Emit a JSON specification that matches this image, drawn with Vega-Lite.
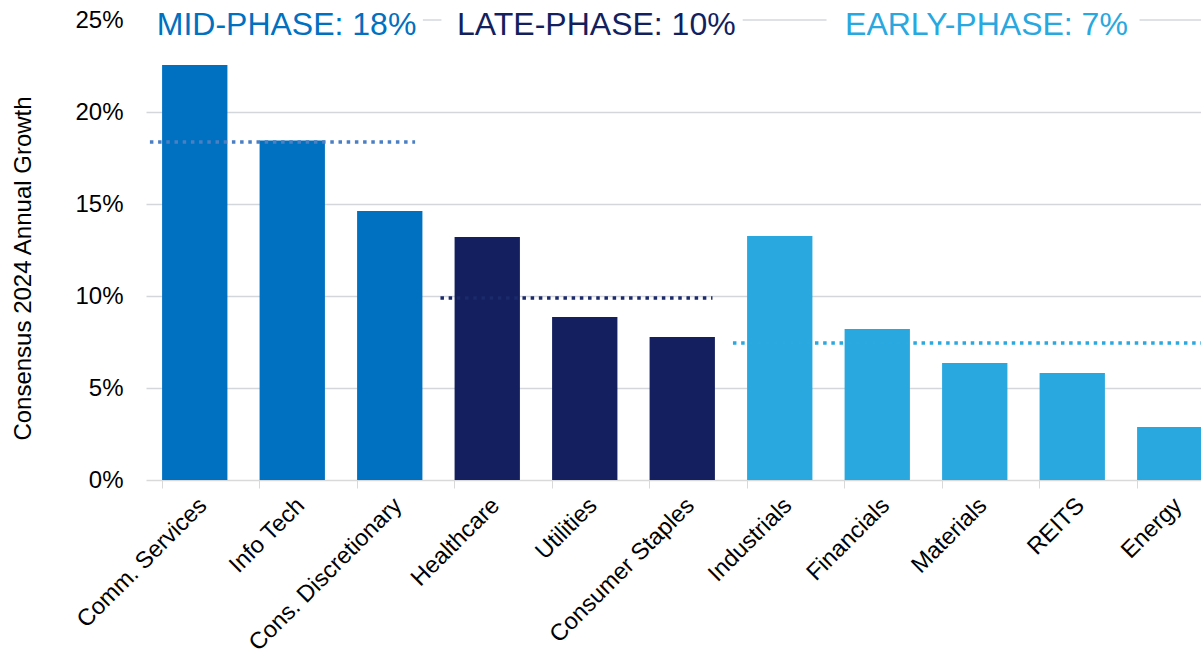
{
  "$schema": "https://vega.github.io/schema/vega-lite/v6.json",
  "width": 1055,
  "height": 460,
  "autosize": {"type": "none"},
  "padding": {"left": 146, "top": 20, "right": 0, "bottom": 180},
  "background": "white",
  "config": {
    "view": {"stroke": null},
    "font": "Liberation Sans",
    "axis": {"labelFont": "Liberation Sans", "titleFont": "Liberation Sans", "labelColor": "#000000", "titleColor": "#000000", "titleFontWeight": "normal"}
  },
  "datasets": {
    "sectors": [
      {"sector": "Comm. Services", "growth": 22.55, "phase": "Mid"},
      {"sector": "Info Tech", "growth": 18.45, "phase": "Mid"},
      {"sector": "Cons. Discretionary", "growth": 14.62, "phase": "Mid"},
      {"sector": "Healthcare", "growth": 13.2, "phase": "Late"},
      {"sector": "Utilities", "growth": 8.86, "phase": "Late"},
      {"sector": "Consumer Staples", "growth": 7.77, "phase": "Late"},
      {"sector": "Industrials", "growth": 13.26, "phase": "Early"},
      {"sector": "Financials", "growth": 8.2, "phase": "Early"},
      {"sector": "Materials", "growth": 6.36, "phase": "Early"},
      {"sector": "REITS", "growth": 5.82, "phase": "Early"},
      {"sector": "Energy", "growth": 2.88, "phase": "Early"}
    ],
    "averages": [
      {"phase": "Mid", "avg": 18.37, "start": 0.04, "end": 2.76},
      {"phase": "Late", "avg": 9.89, "start": 3.02, "end": 5.81},
      {"phase": "Early", "avg": 7.45, "start": 6.02, "end": 11}
    ],
    "topline": [
      {"from": 2.84, "to": 3.03},
      {"from": 6.12, "to": 6.98},
      {"from": 10.19, "to": 11}
    ],
    "labels": [
      {"label": "MID-PHASE: 18%", "phase": "Mid", "pos": 0.11},
      {"label": "LATE-PHASE: 10%", "phase": "Late", "pos": 3.19},
      {"label": "EARLY-PHASE: 7%", "phase": "Early", "pos": 7.17}
    ]
  },
  "resolve": {"scale": {"x": "independent"}},
  "layer": [
    {
      "data": {"name": "sectors"},
      "mark": {"type": "bar"},
      "encoding": {
        "x": {
          "field": "sector", "type": "nominal", "sort": null,
          "scale": {"range": [0, 1072.5], "paddingInner": 0.33, "paddingOuter": 0.165},
          "axis": {
            "title": null, "labelAngle": -45, "labelFontSize": 23.5, "labelPadding": 5,
            "bandPosition": 0, "tickSize": 8, "tickColor": "#d9d9d9", "domainColor": "#d9d9d9", "domainWidth": 1.5,
            "labelLimit": 300, "grid": false
          }
        },
        "y": {
          "field": "growth", "type": "quantitative",
          "scale": {"domain": [0, 25], "nice": false},
          "axis": {
            "title": "Consensus 2024 Annual Growth", "titleFontSize": 24,
            "values": [0, 5, 10, 15, 20, 25],
            "labelExpr": "datum.value + '%'", "labelFontSize": 24, "labelPadding": 23,
            "ticks": false, "tickSize": 0, "domain": false,
            "grid": true, "gridColor": "#d3d7dc", "gridWidth": 1.5,
            "gridOpacity": {"condition": {"test": "datum.value >= 25 || datum.value <= 0", "value": 0}, "value": 1},
            "titleX": -123, "titleY": 248, "titleAngle": -90, "titleBaseline": "middle", "titleAnchor": "middle"
          }
        },
        "color": {
          "field": "phase", "type": "nominal",
          "scale": {"domain": ["Mid", "Late", "Early"], "range": ["#0070c0", "#131f5e", "#29a8e0"]},
          "legend": null
        }
      }
    },
    {
      "data": {"name": "topline"},
      "mark": {"type": "rule", "color": "#d3d7dc", "strokeWidth": 1.5},
      "encoding": {
        "x": {"field": "from", "type": "quantitative", "scale": {"domain": [0, 11], "range": [0, 1072.5]}, "axis": null},
        "x2": {"field": "to"},
        "y": {"datum": 25, "type": "quantitative", "scale": {"domain": [0, 25]}}
      }
    },
    {
      "data": {"name": "averages"},
      "mark": {"type": "rule", "strokeWidth": 3.5, "strokeDash": [3.5, 4.7]},
      "encoding": {
        "x": {"field": "start", "type": "quantitative", "scale": {"domain": [0, 11], "range": [0, 1072.5]}, "axis": null},
        "x2": {"field": "end"},
        "y": {"field": "avg", "type": "quantitative"},
        "stroke": {
          "field": "phase", "type": "nominal",
          "scale": {"domain": ["Mid", "Late", "Early"], "range": ["#4a7fc4", "#1b2a6b", "#2aa8e0"]},
          "legend": null
        }
      }
    },
    {
      "data": {"name": "labels"},
      "mark": {"type": "text", "align": "left", "baseline": "alphabetic", "dy": 15, "fontSize": 32, "font": "Liberation Sans"},
      "encoding": {
        "x": {"field": "pos", "type": "quantitative", "scale": {"domain": [0, 11], "range": [0, 1072.5]}, "axis": null},
        "y": {"datum": 25, "type": "quantitative"},
        "text": {"field": "label"},
        "color": {"field": "phase", "type": "nominal", "legend": null}
      }
    }
  ]
}
